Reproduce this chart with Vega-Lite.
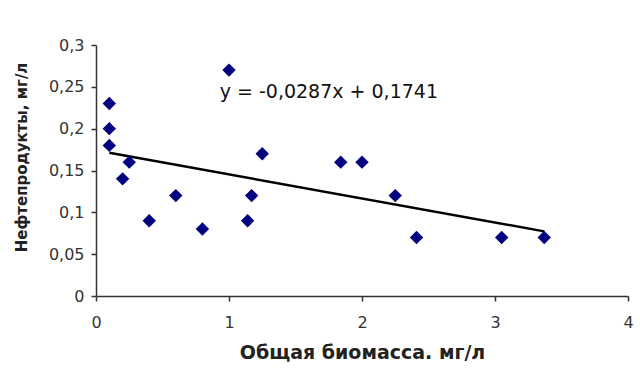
{
  "$schema": "https://vega.github.io/schema/vega-lite/v6.json",
  "width": 532,
  "height": 251,
  "autosize": {"type": "none"},
  "padding": {"left": 96, "top": 45, "right": 12, "bottom": 94},
  "background": "white",
  "config": {
    "view": {"stroke": null},
    "font": "DejaVu Sans",
    "axis": {
      "grid": false,
      "domainColor": "#333333",
      "tickColor": "#333333",
      "domainWidth": 1.5,
      "tickWidth": 1.5,
      "tickSize": 5,
      "labelColor": "#333333",
      "labelFontSize": 16,
      "labelFlush": false,
      "titleColor": "#222222",
      "titleFontWeight": "bold"
    }
  },
  "datasets": {
    "pts": [
      {"biomass": 0.1, "oil": 0.23},
      {"biomass": 0.1, "oil": 0.20},
      {"biomass": 0.1, "oil": 0.18},
      {"biomass": 0.2, "oil": 0.14},
      {"biomass": 0.25, "oil": 0.16},
      {"biomass": 0.4, "oil": 0.09},
      {"biomass": 0.6, "oil": 0.12},
      {"biomass": 0.8, "oil": 0.08},
      {"biomass": 1.0, "oil": 0.27},
      {"biomass": 1.14, "oil": 0.09},
      {"biomass": 1.17, "oil": 0.12},
      {"biomass": 1.25, "oil": 0.17},
      {"biomass": 1.84, "oil": 0.16},
      {"biomass": 2.0, "oil": 0.16},
      {"biomass": 2.25, "oil": 0.12},
      {"biomass": 2.41, "oil": 0.07},
      {"biomass": 3.05, "oil": 0.07},
      {"biomass": 3.37, "oil": 0.07}
    ],
    "eq": [
      {"biomass": 0.93, "oil": 0.244, "label": "y = -0,0287x + 0,1741"}
    ]
  },
  "layer": [
    {
      "data": {"name": "pts"},
      "transform": [{"regression": "oil", "on": "biomass", "method": "linear"}],
      "mark": {"type": "line", "color": "black", "strokeWidth": 2.5},
      "encoding": {
        "x": {"field": "biomass", "type": "quantitative"},
        "y": {"field": "oil", "type": "quantitative"}
      }
    },
    {
      "data": {"name": "pts"},
      "mark": {"type": "point", "shape": "diamond", "filled": true, "color": "#000080", "opacity": 1, "size": 180},
      "encoding": {
        "x": {
          "field": "biomass",
          "type": "quantitative",
          "scale": {"domain": [0, 4], "nice": false},
          "axis": {
            "values": [0, 1, 2, 3, 4],
            "format": "d",
            "title": "Общая биомасса. мг/л",
            "titleFontSize": 19,
            "labelPadding": 13,
            "titlePadding": 13
          }
        },
        "y": {
          "field": "oil",
          "type": "quantitative",
          "scale": {"domain": [0, 0.3], "nice": false},
          "axis": {
            "values": [0, 0.05, 0.1, 0.15, 0.2, 0.25, 0.3],
            "labelExpr": "replace(toString(datum.value), '.', ',')",
            "title": "Нефтепродукты, мг/л",
            "titleFontSize": 15,
            "labelPadding": 7,
            "titleX": -67,
            "titleY": 112
          }
        }
      }
    },
    {
      "data": {"name": "eq"},
      "mark": {"type": "text", "align": "left", "baseline": "middle", "fontSize": 19, "color": "#111111"},
      "encoding": {
        "x": {"field": "biomass", "type": "quantitative"},
        "y": {"field": "oil", "type": "quantitative"},
        "text": {"field": "label"}
      }
    }
  ]
}
